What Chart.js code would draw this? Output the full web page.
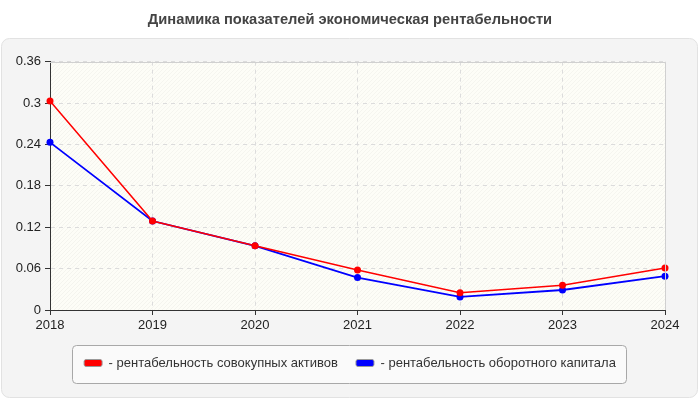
<!DOCTYPE html>
<html lang="ru">
  <head>
    <meta charset="UTF-8" />
    <title>Динамика показателей</title>
    <script src="https://cdn.jsdelivr.net/npm/chart.js"></script>
    <style>
      html, body { margin: 0; padding: 0; background: #fff; }
      #wrap { width: 700px; height: 400px; }
    </style>
  </head>
  <body>
    <div id="wrap"><canvas id="chart" width="700" height="400"></canvas></div>

    <script>
      const years = ["2018", "2019", "2020", "2021", "2022", "2023", "2024"];
      const totalAssets = [0.303, 0.129, 0.093, 0.058, 0.025, 0.036, 0.061];
      const workingCapital = [0.243, 0.129, 0.093, 0.047, 0.019, 0.029, 0.049];
      const yTicks = [0, 0.06, 0.12, 0.18, 0.24, 0.3, 0.36];
      const seriesNames = [
        "рентабельность совокупных активов",
        "рентабельность оборотного капитала",
      ];

      // backgrounds: grey frame, hatched plot area, legend box
      const backdrop = {
        id: "backdrop",
        beforeDraw(chart) {
          const ctx = chart.ctx;
          const a = chart.chartArea;
          ctx.save();
          ctx.fillStyle = "#fff";
          ctx.fillRect(0, 0, chart.width, chart.height);

          ctx.beginPath();
          ctx.roundRect(1.5, 38.5, 696, 359, 8);
          ctx.fillStyle = "#f4f4f4";
          ctx.fill();
          ctx.strokeStyle = "#e2e2e2";
          ctx.lineWidth = 1;
          ctx.stroke();

          ctx.fillStyle = "#fdfdf7";
          ctx.fillRect(a.left, a.top, a.right - a.left, a.bottom - a.top);
          ctx.beginPath();
          ctx.rect(a.left, a.top, a.right - a.left, a.bottom - a.top);
          ctx.clip();
          ctx.strokeStyle = "rgba(0,0,0,0.035)";
          for (let x = a.left - 300; x < a.right; x += 4) {
            ctx.beginPath();
            ctx.moveTo(x, a.bottom);
            ctx.lineTo(x + (a.bottom - a.top), a.top);
            ctx.stroke();
          }
          ctx.restore();

          ctx.save();
          ctx.beginPath();
          ctx.roundRect(72.5, 345.5, 554, 38, 4);
          ctx.fillStyle = "#fafafa";
          ctx.fill();
          ctx.strokeStyle = "#a8a8a8";
          ctx.stroke();
          ctx.restore();
        },
        afterDraw(chart) {
          const ctx = chart.ctx;
          const a = chart.chartArea;
          ctx.save();
          ctx.strokeStyle = "#d0d0d0";
          ctx.lineWidth = 1;
          ctx.beginPath();
          ctx.moveTo(a.left, Math.round(a.top) + 0.5);
          ctx.lineTo(Math.round(a.right) + 0.5, Math.round(a.top) + 0.5);
          ctx.lineTo(Math.round(a.right) + 0.5, a.bottom);
          ctx.stroke();
          ctx.restore();
        },
      };

      const tickFont = { family: "Arial, 'Liberation Sans'", size: 13 };

      new Chart(document.getElementById("chart").getContext("2d"), {
        type: "line",
        data: {
          labels: years,
          datasets: [
            {
              label: seriesNames[0],
              data: totalAssets,
              borderColor: "#ff0000",
              backgroundColor: "#ff0000",
              borderWidth: 1.5,
              pointRadius: 3.5,
              pointBorderWidth: 0,
              tension: 0,
            },
            {
              label: seriesNames[1],
              data: workingCapital,
              borderColor: "#0000ff",
              backgroundColor: "#0000ff",
              borderWidth: 1.8,
              pointRadius: 3.5,
              pointBorderWidth: 0,
              tension: 0,
            },
          ],
        },
        options: {
          responsive: false,
          animation: false,
          layout: { padding: { left: 0, right: 0, top: 0, bottom: 20.5 } },
          plugins: {
            title: {
              display: true,
              text: "Динамика показателей экономическая рентабельности",
              color: "#444",
              font: { family: "Arial, 'Liberation Sans'", size: 14.7, weight: "bold" },
              padding: { top: 11, bottom: 33 },
            },
            legend: {
              position: "bottom",
              labels: {
                color: "#333",
                font: { family: "Arial, 'Liberation Sans'", size: 13 },
                boxWidth: 18,
                boxHeight: 7,
                padding: 18,
                useBorderRadius: true,
                borderRadius: 2,
                generateLabels(chart) {
                  return chart.data.datasets.map((ds, i) => ({
                    text: "- " + ds.label,
                    fillStyle: ds.borderColor,
                    strokeStyle: "#999",
                    lineWidth: 1,
                    borderRadius: 2,
                    datasetIndex: i,
                    fontColor: "#333",
                  }));
                },
              },
            },
            tooltip: { enabled: false },
          },
          scales: {
            x: {
              grid: { color: "#dcdcdc", tickLength: 5, tickColor: "#333", drawTicks: true },
              border: { color: "#333", dash: [4, 4] },
              ticks: { color: "#222", font: tickFont, padding: 3, maxRotation: 0 },
              afterFit(scale) { scale.height = 28.5; },
            },
            y: {
              min: 0,
              max: 0.36,
              grid: { color: "#dcdcdc", tickLength: 5, tickColor: "#333" },
              border: { color: "#333", dash: [4, 4] },
              ticks: {
                color: "#222",
                font: tickFont,
                padding: 4,
                callback: (v) => String(Number(v.toFixed(2))),
              },
              afterBuildTicks(scale) { scale.ticks = yTicks.map((v) => ({ value: v })); },
              afterFit(scale) { scale.width = 50; },
            },
            // empty spacer on the right so the plot ends at the same place
            spacer: {
              type: "linear",
              position: "right",
              display: true,
              grid: { display: false },
              border: { display: false },
              ticks: { display: false },
              afterFit(scale) { scale.width = 35; },
            },
          },
        },
        plugins: [backdrop],
      });
    </script>
  </body>
</html>
